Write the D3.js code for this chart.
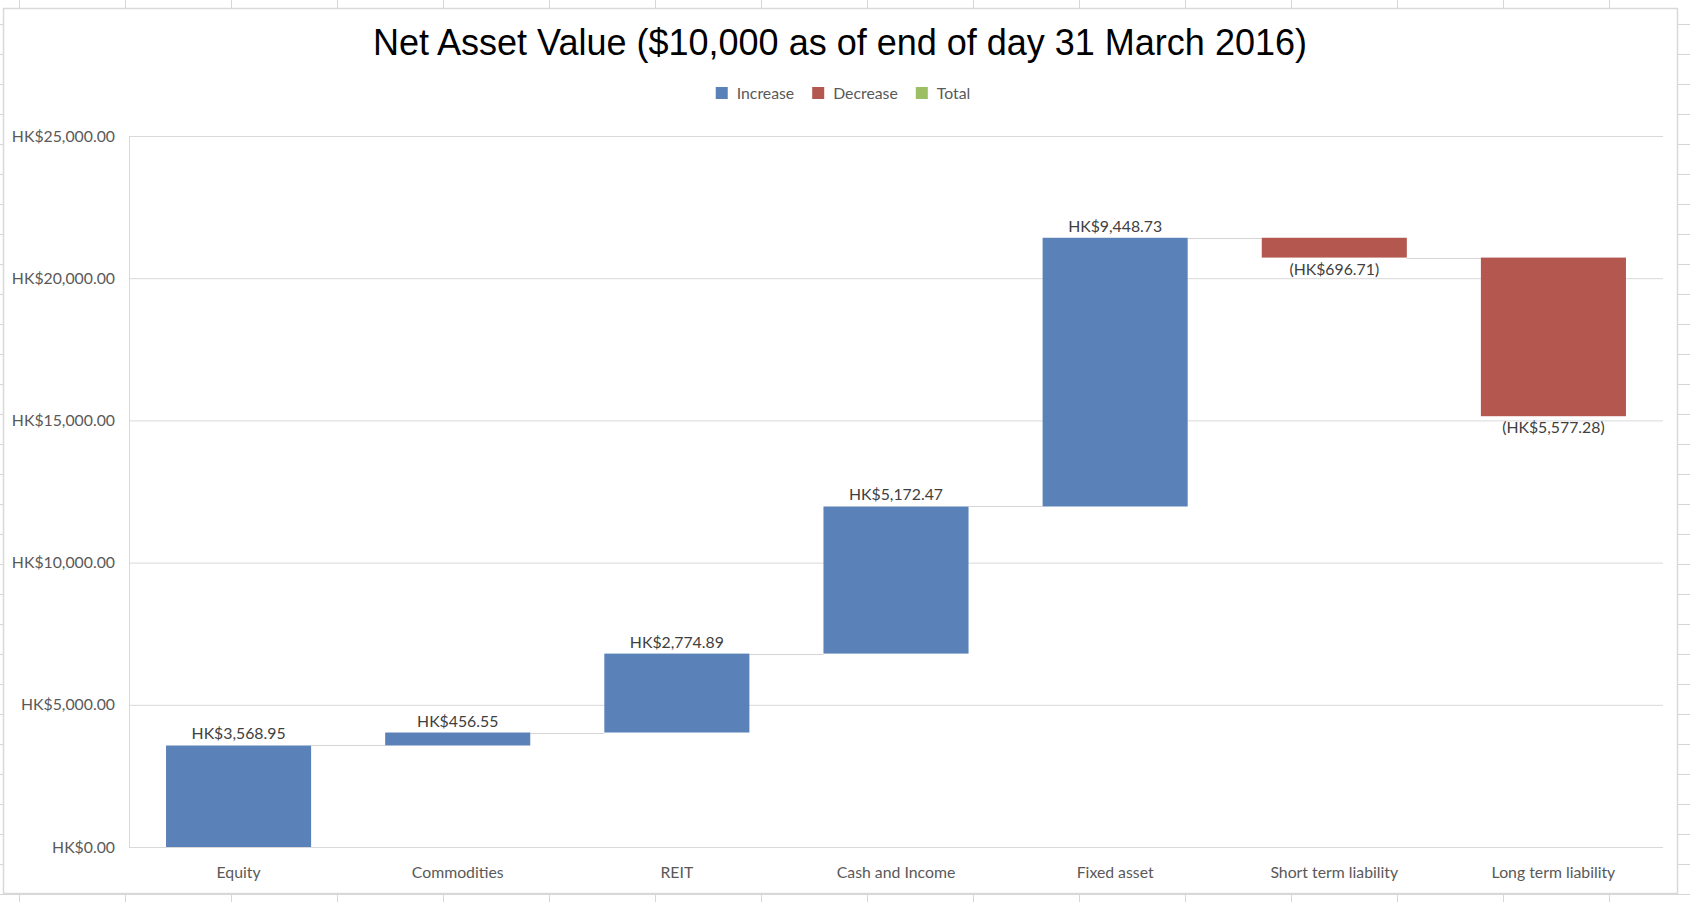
<!DOCTYPE html>
<html>
<meta charset="utf-8">
<style>
    body { margin: 0; background: #fff; }
    svg { display: block; }
</style>
<body>
<svg width="1690" height="902"></svg>
<script src="https://d3js.org/d3.v7.min.js"></script>
<script>

    // data
    let categories = ["Equity", "Commodities", "REIT", "Cash and Income", "Fixed asset", "Short term liability", "Long term liability"];
    let changes = [3568.95, 456.55, 2774.89, 5172.47, 9448.73, -696.71, -5577.28];
    let yTicks = [0, 5000, 10000, 15000, 20000, 25000];
    let legendKeys = ["Increase", "Decrease", "Total"];

    let svg = d3.select("svg"),
        W = +svg.attr("width"),
        H = +svg.attr("height");

    let font = "Lato, 'Open Sans', sans-serif";
    let fontSize = "15.8px";
    let colors = {Increase: "#5a82b9", Decrease: "#b3574f", Total: "#9dbf64"};

    // spreadsheet cells behind the chart
    let sheet = svg.append("g").attr("stroke", "#d6d6d6").attr("stroke-width", 1);
    for (let gx = 19.5; gx < W; gx += 106) {
        sheet.append("line").attr("x1", gx).attr("x2", gx).attr("y1", 0).attr("y2", H);
    }
    for (let gy = 24.5; gy < H; gy += 30) {
        sheet.append("line").attr("x1", 0).attr("x2", W).attr("y1", gy).attr("y2", gy);
    }

    // chart area
    svg.append("rect")
        .attr("x", 3.5).attr("y", 8.5)
        .attr("width", 1674).attr("height", 885)
        .attr("fill", "#fff")
        .attr("stroke", "#d9d9d9")
        .attr("stroke-width", 1.5);

    let plotLeft = 129, plotRight = 1663, plotTop = 136, plotBottom = 847;

    let x = d3.scaleBand()
        .domain(categories)
        .range([plotLeft, plotRight])
        .paddingInner(0.338)
        .paddingOuter(0.169);

    let y = d3.scaleLinear()
        .domain([0, 25000])
        .range([plotBottom, plotTop]);

    let money = d3.format(",.2f");
    let fmt = function (v) {
        return v < 0 ? "(HK$" + money(-v) + ")" : "HK$" + money(v);
    };

    // running totals
    let rows = [], run = 0;
    changes.forEach(function (v, i) {
        let start = run;
        run += v;
        rows.push({cat: categories[i], value: v, start: start, end: run, key: v >= 0 ? "Increase" : "Decrease"});
    });

    // y axis with gridlines
    let yAxis = svg.append("g")
        .attr("transform", "translate(" + plotLeft + ",0)")
        .call(d3.axisLeft(y).tickValues(yTicks).tickFormat(fmt)
            .tickSize(-(plotRight - plotLeft)).tickSizeOuter(0).tickPadding(14));
    yAxis.select(".domain").remove();
    yAxis.selectAll(".tick line").attr("stroke", "#d9d9d9");
    yAxis.selectAll(".tick text")
        .attr("fill", "#595959")
        .attr("font-family", font)
        .attr("font-size", fontSize);

    svg.append("line")
        .attr("x1", plotLeft + 0.5).attr("x2", plotLeft + 0.5)
        .attr("y1", plotTop).attr("y2", plotBottom)
        .attr("stroke", "#d9d9d9");

    // x axis labels
    let xAxis = svg.append("g")
        .attr("transform", "translate(0," + plotBottom + ")")
        .call(d3.axisBottom(x).tickSize(0).tickPadding(20));
    xAxis.select(".domain").remove();
    xAxis.selectAll(".tick text")
        .attr("fill", "#595959")
        .attr("font-family", font)
        .attr("font-size", fontSize);

    // connectors
    svg.append("g")
        .selectAll("line")
        .data(rows.slice(0, -1))
        .enter().append("line")
        .attr("x1", function (d) { return x(d.cat) + x.bandwidth(); })
        .attr("x2", function (d, i) { return x(categories[i + 1]); })
        .attr("y1", function (d) { return Math.round(y(d.end)) + 0.5; })
        .attr("y2", function (d) { return Math.round(y(d.end)) + 0.5; })
        .attr("stroke", "#d4d4d4");

    // bars
    svg.append("g")
        .selectAll("rect")
        .data(rows)
        .enter().append("rect")
        .attr("x", function (d) { return x(d.cat); })
        .attr("y", function (d) { return y(Math.max(d.start, d.end)); })
        .attr("width", x.bandwidth())
        .attr("height", function (d) { return Math.abs(y(d.start) - y(d.end)); })
        .attr("fill", function (d) { return colors[d.key]; });

    // data labels
    svg.append("g")
        .attr("font-family", font)
        .attr("font-size", fontSize)
        .attr("fill", "#404040")
        .attr("text-anchor", "middle")
        .selectAll("text")
        .data(rows)
        .enter().append("text")
        .attr("x", function (d) { return x(d.cat) + x.bandwidth() / 2; })
        .attr("y", function (d) { return d.value >= 0 ? y(d.end) - 6 : y(d.end) + 17; })
        .text(function (d) { return fmt(d.value); });

    // title
    svg.append("text")
        .attr("x", 840)
        .attr("y", 55)
        .attr("text-anchor", "middle")
        .attr("font-family", "'Liberation Sans', Arial, sans-serif")
        .attr("font-size", "36px")
        .attr("fill", "#000")
        .text("Net Asset Value ($10,000 as of end of day 31 March 2016)");

    // legend
    let legend = svg.append("g")
        .attr("font-family", font)
        .attr("font-size", fontSize)
        .attr("fill", "#595959");
    let items = legend.selectAll("g")
        .data(legendKeys)
        .enter().append("g");
    items.append("rect")
        .attr("width", 12).attr("height", 12)
        .attr("y", 87)
        .attr("fill", function (d) { return colors[d]; });
    items.append("text")
        .attr("x", 21)
        .attr("y", 93)
        .attr("dy", "0.35em")
        .text(function (d) { return d; });
    let offset = 0, pos = [];
    items.each(function () {
        pos.push(offset);
        offset += 21 + d3.select(this).select("text").node().getComputedTextLength() + 18;
    });
    let legendWidth = offset - 18;
    let legendStart = 843 - legendWidth / 2;
    items.attr("transform", function (d, i) { return "translate(" + (legendStart + pos[i]) + ",0)"; });

</script>
</body>
</html>
